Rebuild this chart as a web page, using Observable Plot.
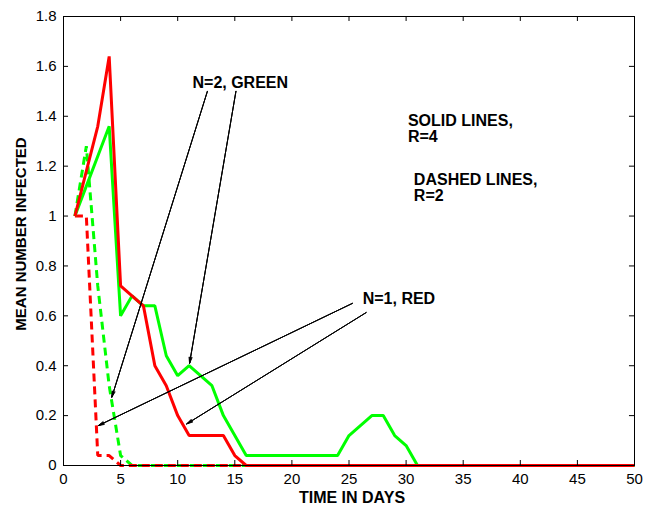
<!DOCTYPE html>
<html><head><meta charset="utf-8">
<script src="https://cdn.jsdelivr.net/npm/d3@7"></script>
<script src="https://cdn.jsdelivr.net/npm/@observablehq/plot@0.6"></script>
<style>body{margin:0;background:#fff}</style>
</head><body><div id="chart"></div>
<script>
// Series values (time in days, mean number infected)
const redSolidDays   = [1, 2, 3, 4, 5, 6, 7, 8, 9, 10, 11, 12, 13, 14, 15, 16, 50];
const redSolidValues = [1, 1.18, 1.36, 1.64, 0.72, 0.68, 0.64, 0.40, 0.32, 0.20, 0.12, 0.12, 0.12, 0.12, 0.04, 0, 0];

const greenSolidDays   = [1, 2, 3, 4, 5, 6, 7, 8, 9, 10, 11, 12, 13, 14, 15, 16, 17, 18, 19, 20, 21, 22, 23, 24, 25, 26, 27, 28, 29, 30, 31, 50];
const greenSolidValues = [1, 1.12, 1.24, 1.36, 0.60, 0.68, 0.64, 0.64, 0.44, 0.36, 0.40, 0.36, 0.32, 0.20, 0.12, 0.04, 0.04, 0.04, 0.04, 0.04, 0.04, 0.04, 0.04, 0.04, 0.12, 0.16, 0.20, 0.20, 0.12, 0.08, 0, 0];

const redDashedDays   = [1, 2, 3, 4, 5, 50];
const redDashedValues = [1, 1, 0.04, 0.04, 0, 0];

const greenDashedDays   = [1, 2, 3, 4, 5, 6, 50];
const greenDashedValues = [1, 1.28, 0.72, 0.32, 0.04, 0, 0];

const xTicks = [0, 5, 10, 15, 20, 25, 30, 35, 40, 45, 50];
const yTicks = [0, 0.2, 0.4, 0.6, 0.8, 1, 1.2, 1.4, 1.6, 1.8];

// Annotations (data coordinates)
const centerLabelTexts = ["N=2, GREEN"];
const centerLabelX = [15.48];
const centerLabelY = [1.532];
const startLabelTexts = ["N=1, RED", "SOLID LINES,\nR=4", "DASHED LINES,\nR=2"];
const startLabelX     = [26.2, 30.16, 30.68];
const startLabelY     = [0.668, 1.348, 1.114];

const arrowX1 = [12.6, 15.1, 25.3, 26.5];
const arrowY1 = [1.5, 1.5, 0.65, 0.613];
const arrowX2 = [4.23, 11.04, 3.05, 10.8];
const arrowY2 = [0.274, 0.41, 0.16, 0.167];

const toRows = (days, vals) => days.map((d, i) => ({t: d, v: vals[i]}));
const redSolid = toRows(redSolidDays, redSolidValues);
const greenSolid = toRows(greenSolidDays, greenSolidValues);
const redDashed = toRows(redDashedDays, redDashedValues);
const greenDashed = toRows(greenDashedDays, greenDashedValues);
const centerLabels = centerLabelTexts.map((s, i) => ({s, x: centerLabelX[i], y: centerLabelY[i]}));
const startLabels = startLabelTexts.map((s, i) => ({s, x: startLabelX[i], y: startLabelY[i]}));
const arrows = arrowX1.map((x1, i) => ({x1, y1: arrowY1[i], x2: arrowX2[i], y2: arrowY2[i]}));

const font = "'Liberation Sans', Arial, Helvetica, sans-serif";
const arrowOpts = {x1: "x1", y1: "y1", x2: "x2", y2: "y2", stroke: "black", strokeWidth: 0.9, headLength: 10};

const chart = Plot.plot({
  width: 645,
  height: 510,
  marginLeft: 63,
  marginRight: 11,
  marginTop: 16,
  marginBottom: 45,
  style: {fontFamily: font, fontSize: "15px", color: "black", background: "white"},
  x: {domain: [0, 50]},
  y: {domain: [0, 1.8]},
  marks: [
    Plot.line(greenDashed, {x: "t", y: "v", stroke: "#00ff00", strokeWidth: 3, strokeDasharray: "8,5", strokeLinecap: "butt", strokeLinejoin: "miter"}),
    Plot.line(redDashed, {x: "t", y: "v", stroke: "#ff0000", strokeWidth: 3, strokeDasharray: "8,5", strokeLinecap: "butt", strokeLinejoin: "miter"}),
    Plot.line(greenSolid, {x: "t", y: "v", stroke: "#00ff00", strokeWidth: 3, strokeLinejoin: "miter", strokeLinecap: "butt"}),
    Plot.line(redSolid, {x: "t", y: "v", stroke: "#ff0000", strokeWidth: 3, strokeLinejoin: "miter", strokeLinecap: "butt"}),
    Plot.frame({stroke: "black", strokeWidth: 1}),
    Plot.ruleX(xTicks, {x: d => d, y1: 0, y2: 0.02, stroke: "black"}),
    Plot.ruleX(xTicks, {x: d => d, y1: 1.8, y2: 1.78, stroke: "black"}),
    Plot.ruleY(yTicks, {y: d => d, x1: 0, x2: 0.44, stroke: "black"}),
    Plot.ruleY(yTicks, {y: d => d, x1: 50, x2: 49.56, stroke: "black"}),
    Plot.axisX({ticks: xTicks, tickSize: 0, tickPadding: 8, label: null, tickFormat: d => String(d)}),
    Plot.axisY({ticks: yTicks, tickSize: 0, tickPadding: 7, label: null, tickFormat: d => String(+d.toFixed(1))}),
    Plot.text(["TIME IN DAYS"], {frameAnchor: "bottom", lineAnchor: "middle", textAnchor: "middle", dy: 32, dx: 3, fontWeight: "bold", fontSize: 16, fill: "black"}),
    Plot.text(["MEAN NUMBER INFECTED"], {frameAnchor: "left", lineAnchor: "middle", textAnchor: "middle", rotate: -90, dx: -42, dy: -7, fontWeight: "bold", fontSize: 15, fill: "black"}),
    Plot.arrow(arrows, {...arrowOpts, headAngle: 30}),
    Plot.arrow(arrows, {...arrowOpts, headAngle: 20}),
    Plot.arrow(arrows, {...arrowOpts, headAngle: 10}),
    Plot.text(centerLabels, {x: "x", y: "y", text: "s", textAnchor: "middle", fontWeight: "bold", fontSize: 16, fill: "black"}),
    Plot.text(startLabels, {x: "x", y: "y", text: "s", textAnchor: "start", fontWeight: "bold", fontSize: 16, lineHeight: 1.0, fill: "black"})
  ]
});
document.getElementById("chart").appendChild(chart);
</script>
</body></html>
